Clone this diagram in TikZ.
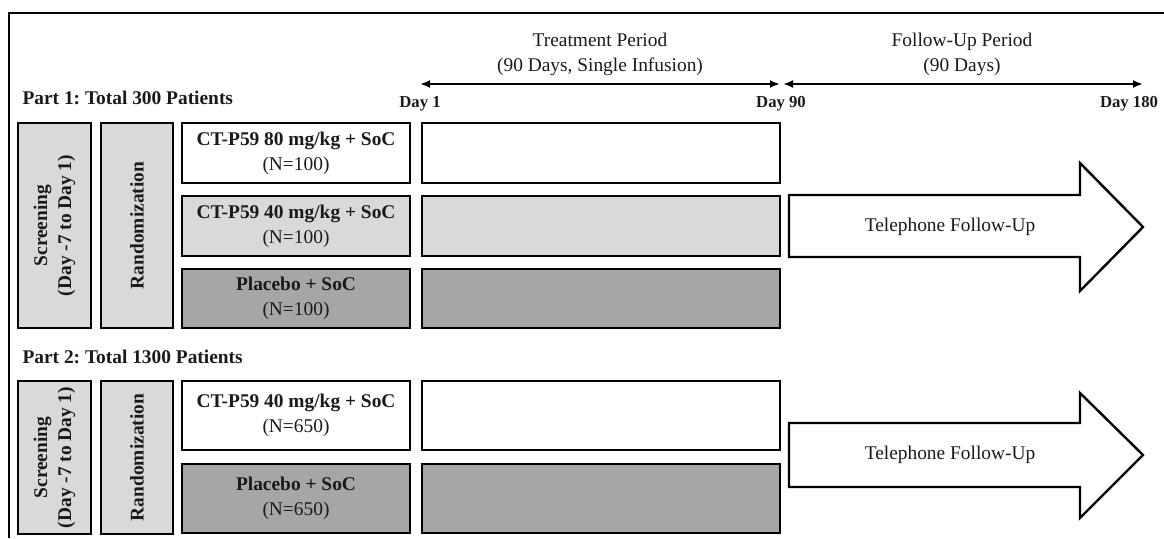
\documentclass[tikz,border=0pt]{standalone}
\usepackage{fontspec}
\setmainfont{Liberation Serif}
\usetikzlibrary{arrows.meta}
\definecolor{lgray}{HTML}{D9D9D9}
\definecolor{dgray}{HTML}{A6A6A6}
\definecolor{ink}{HTML}{1A1A1A}
\frenchspacing
\begin{document}
\begin{tikzpicture}[x=1pt,y=-1pt,
  every node/.style={font=\fontsize{19.4}{25}\selectfont, text=ink},
  bx/.style={draw=black, line width=2.4pt, inner sep=0pt, align=center},
  vtext/.style={rotate=90, align=center, font=\fontsize{19.4}{24}\selectfont\bfseries},
  daylbl/.style={font=\fontsize{16.7}{20}\selectfont\bfseries},
  partlbl/.style={anchor=west, font=\fontsize{19.4}{24}\selectfont\bfseries},
  hdr/.style={align=center},
  span/.style={line width=2.2pt, {Latex[length=10pt,width=8pt]}-{Latex[length=10pt,width=8pt]}},
  bigarrow/.style={draw=black, line width=2.4pt, fill=white, line join=miter},
]
\useasboundingbox (0,0) rectangle (1164,538);
% outer frame
\draw[line width=2.4pt] (9,538) -- (9,13) -- (1164,13);

% header
\node[hdr] (tp) at (600,54.5) {Treatment Period\\(90 Days, Single Infusion)};
\node[hdr] (fp) at (962,54.5) {Follow-Up Period\\(90 Days)};
\coordinate (d1) at (420,84);
\coordinate (d90a) at (780,84);
\coordinate (d90b) at (783,84);
\coordinate (d180) at (1143,84);
\draw[span] (d1) -- (d90a);
\draw[span] (d90b) -- (d180);
\node[daylbl] (l1) at (420,104) {Day 1};
\node[daylbl] (l90) at (781,104) {Day 90};
\node[daylbl] (l180) at (1129,104) {Day 180};

% Part 1
\node[partlbl] (p1) at (19,98) {Part 1: Total 300 Patients};
\node[bx, fill=lgray, minimum width=73pt, minimum height=205pt] (scr1) at (54.5,225.5) {};
\node[vtext] at (scr1.center) {Screening\\(Day -7 to Day 1)};
\node[bx, fill=lgray, minimum width=72pt, minimum height=205pt] (rnd1) at (137,225.5) {};
\node[vtext] at (rnd1.center) {Randomization};

\node[bx, fill=white, minimum width=228pt, minimum height=60pt] (a1) at (296,153) {\textbf{CT-P59 80 mg/kg + SoC}\\(N=100)};
\node[bx, fill=lgray, minimum width=228pt, minimum height=60pt] (a2) at (296,226) {\textbf{CT-P59 40 mg/kg + SoC}\\(N=100)};
\node[bx, fill=dgray, minimum width=228pt, minimum height=59pt] (a3) at (296,298.5) {\textbf{Placebo + SoC}\\(N=100)};

\node[bx, fill=white, minimum width=358pt, minimum height=60pt] (t1) at (601,153) {};
\node[bx, fill=lgray, minimum width=358pt, minimum height=60pt] (t2) at (601,226) {};
\node[bx, fill=dgray, minimum width=358pt, minimum height=59pt] (t3) at (601,298.5) {};

\draw[bigarrow] (789,195) -- (1080,195) -- (1080,163) -- (1143,227) -- (1080,291) -- (1080,257) -- (789,257) -- cycle;
\node (f1) at (950,227) {Telephone Follow-Up};

% Part 2
\node[partlbl] (p2) at (19,357) {Part 2: Total 1300 Patients};
\node[bx, fill=lgray, minimum width=73pt, minimum height=153pt] (scr2) at (54.5,457.5) {};
\node[vtext] at (scr2.center) {Screening\\(Day -7 to Day 1)};
\node[bx, fill=lgray, minimum width=72pt, minimum height=153pt] (rnd2) at (137,457.5) {};
\node[vtext] at (rnd2.center) {Randomization};

\node[bx, fill=white, minimum width=228pt, minimum height=69pt] (b1) at (296,415.5) {\textbf{CT-P59 40 mg/kg + SoC}\\(N=650)};
\node[bx, fill=dgray, minimum width=228pt, minimum height=69pt] (b2) at (296,498.5) {\textbf{Placebo + SoC}\\(N=650)};

\node[bx, fill=white, minimum width=358pt, minimum height=69pt] (u1) at (601,415.5) {};
\node[bx, fill=dgray, minimum width=358pt, minimum height=69pt] (u2) at (601,498.5) {};

\draw[bigarrow] (789,423) -- (1080,423) -- (1080,393) -- (1143,455) -- (1080,518) -- (1080,487) -- (789,487) -- cycle;
\node (f2) at (950,455) {Telephone Follow-Up};
\end{tikzpicture}
\end{document}
